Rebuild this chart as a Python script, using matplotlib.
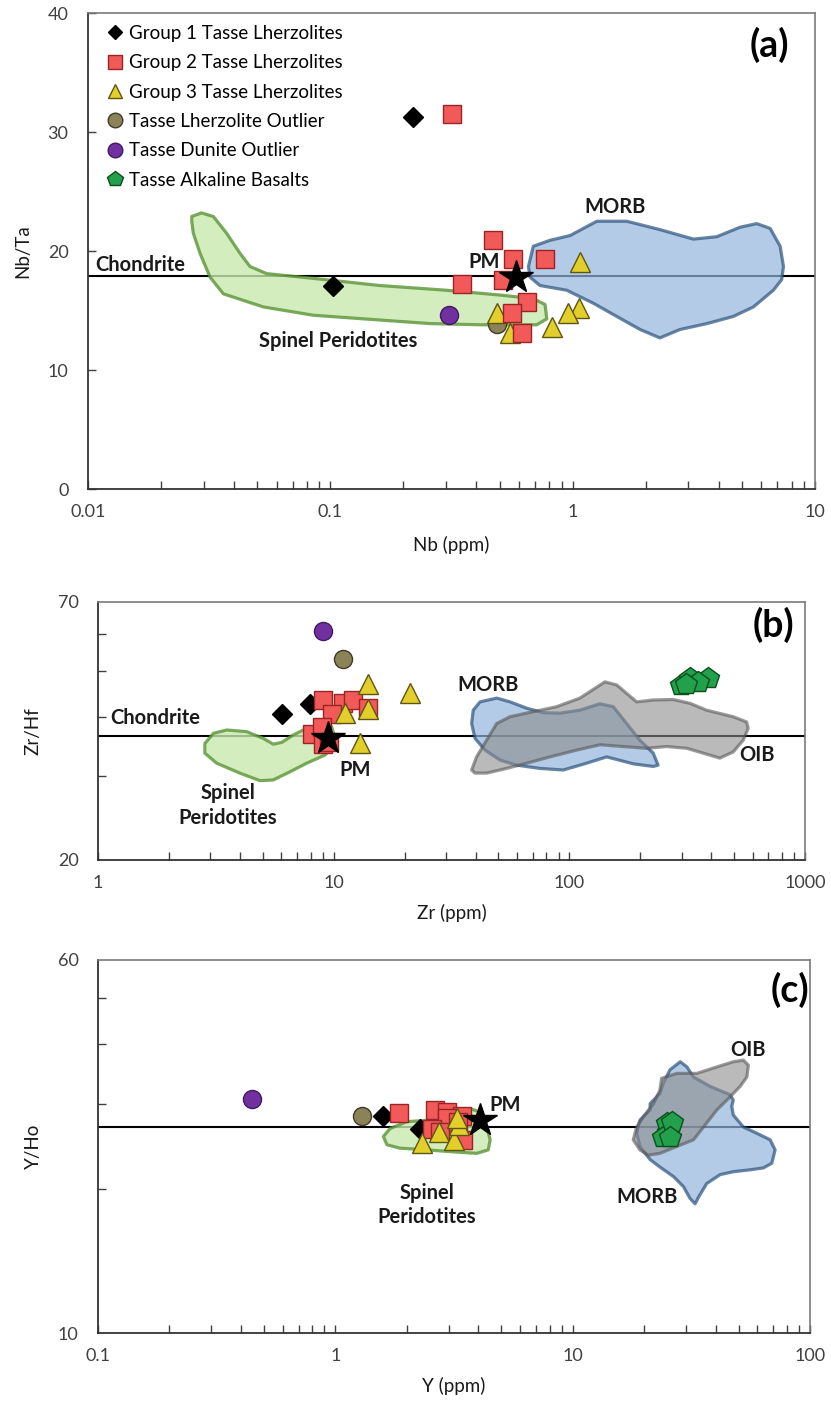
import matplotlib
matplotlib.use("Agg")
import matplotlib.pyplot as plt
from matplotlib.lines import Line2D
from matplotlib.patches import Polygon
from matplotlib.ticker import LogLocator, NullFormatter, FixedLocator, FixedFormatter, FuncFormatter
import numpy as np

plt.rcParams['font.family'] = ['Lato', 'DejaVu Sans']

# ---------------- Panel (a): Nb/Ta vs Nb ----------------
a_g1_x = [0.219, 0.103]
a_g1_y = [31.3, 17.1]
a_g2_x = [0.318, 0.468, 0.569, 0.767, 0.35, 0.518, 0.646, 0.561, 0.616]
a_g2_y = [31.5, 20.9, 19.3, 19.3, 17.2, 17.6, 15.7, 14.8, 13.1]
a_g3_x = [1.07, 1.066, 0.96, 0.825, 0.552, 0.489]
a_g3_y = [19.1, 15.2, 14.8, 13.6, 13.1, 14.8]
a_lz_x, a_lz_y = [0.489], [13.9]
a_du_x, a_du_y = [0.309], [14.6]
a_pm_x, a_pm_y = [0.584], [17.8]
a_chondrite = 17.9

a_sp_x = [0.0268, 0.0294, 0.0329, 0.0373, 0.0424, 0.0466, 0.0546, 0.0851, 0.160, 0.302,
          0.501, 0.688, 0.769, 0.782, 0.711, 0.415, 0.258, 0.160, 0.0851, 0.0529,
          0.0362, 0.0319, 0.029, 0.0272, 0.0268]
a_sp_y = [22.9, 23.2, 22.9, 21.5, 19.8, 18.7, 18.1, 17.7, 17.1, 16.7,
          16.3, 16.0, 15.5, 14.3, 13.8, 13.8, 13.9, 14.2, 14.6, 15.3,
          16.4, 17.8, 19.8, 21.5, 22.5]
a_morb_x = [0.657, 0.688, 0.807, 0.976, 1.258, 1.672, 2.29, 3.15, 3.93, 4.91, 5.75, 6.53,
            7.18, 7.41, 7.29, 6.73, 5.57, 4.60, 3.58, 2.77, 2.29, 1.90, 1.52, 1.22,
            0.946, 0.733, 0.667]
a_morb_y = [18.7, 20.4, 20.9, 21.3, 22.5, 22.5, 21.8, 21.0, 21.2, 22.0, 22.3, 21.9,
            20.4, 18.7, 17.6, 16.7, 15.3, 14.5, 13.9, 13.4, 12.7, 13.4, 14.5, 15.6,
            16.7, 17.1, 17.8]

# ---------------- Panel (b): Zr/Hf vs Zr ----------------
b_g1_x = [6.02, 7.94]
b_g1_y = [40.6, 42.6]
b_g2_x = [9.04, 10.99, 12.1, 14.0, 9.8, 8.07, 8.9, 9.04, 9.6]
b_g2_y = [43.4, 42.9, 43.4, 41.8, 40.6, 36.9, 38.2, 35.1, 35.5]
b_g3_x = [14.0, 21.1, 11.2, 14.0, 12.9]
b_g3_y = [46.9, 44.9, 40.9, 41.7, 35.3]
b_lz_x, b_lz_y = [10.99], [53.0]
b_du_x, b_du_y = [9.04], [60.9]
b_pm_x, b_pm_y = [9.49], [36.1]
b_ab_x = [299, 325, 388, 352, 313]
b_ab_y = [46.7, 48.3, 48.4, 47.5, 47.0]
b_chondrite = 36.5

b_sp_x = [2.84, 3.09, 3.52, 4.27, 5.03, 5.54, 6.02, 6.74, 7.68, 8.75, 9.8, 10.1, 9.96,
          9.19, 7.68, 6.53, 5.54, 4.87, 4.00, 3.19, 2.84]
b_sp_y = [35.2, 37.0, 37.6, 37.3, 36.1, 35.1, 35.4, 36.7, 37.9, 38.5, 38.2, 36.4, 34.7,
          33.3, 32.0, 30.7, 29.5, 29.4, 30.5, 32.0, 33.6]
b_morb_x = [38.5, 39.1, 41.8, 49.2, 56.0, 65.9, 77.5, 91.2, 110.9, 134.8, 153.6, 175, 199,
            227, 238, 227, 187, 144, 118.4, 94.2, 75.0, 59.8, 50.8, 43.9, 39.8]
b_morb_y = [38.8, 41.4, 43.1, 43.9, 43.1, 41.8, 40.9, 40.8, 41.4, 42.7, 42.1, 38.8, 35.8,
            33.6, 31.7, 31.5, 31.9, 33.0, 32.0, 30.96, 31.2, 31.7, 32.5, 34.1, 36.1]
b_oib_x = [38.5, 40.4, 44.6, 49.2, 56.0, 70.3, 88.3, 110.9, 141.6, 158.8, 193, 227, 276,
           325, 382, 496, 565, 574, 547, 496, 435, 370, 315, 259, 213, 169, 134.8,
           107.4, 82.8, 65.9, 54.2, 44.6, 39.8]
b_oib_y = [30.96, 33.0, 35.8, 38.8, 40.1, 41.1, 42.1, 43.9, 47.5, 46.8, 43.1, 43.5, 43.6,
           42.8, 41.4, 40.1, 39.1, 37.9, 35.8, 33.8, 32.8, 33.6, 34.4, 34.7, 34.4, 34.7,
           35.0, 34.1, 33.0, 32.0, 31.2, 30.5, 30.5]

# ---------------- Panel (c): Y/Ho vs Y ----------------
c_g1_x = [1.59, 2.28]
c_g1_y = [28.3, 26.7]
c_g2_x = [1.856, 2.63, 2.95, 3.41, 2.95, 2.55, 2.76, 3.46, 3.3]
c_g2_y = [28.8, 29.2, 28.9, 28.3, 28.1, 26.7, 26.3, 25.3, 27.5]
c_g3_x = [2.31, 2.74, 3.16, 3.33, 3.25]
c_g3_y = [24.9, 26.3, 25.3, 27.2, 28.1]
c_lz_x, c_lz_y = [1.29], [28.3]
c_du_x, c_du_y = [0.445], [30.7]
c_pm_x, c_pm_y = [4.07], [27.8]
c_ab_x = [25.3, 24.9, 24.1, 26.2, 25.7]
c_ab_y = [26.3, 27.4, 25.7, 27.6, 25.7]
c_chondrite = 26.9

c_sp_x = [1.594, 1.70, 2.0, 2.51, 3.04, 3.35, 3.70, 4.07, 4.35, 4.49, 4.41, 3.94, 3.04,
          2.43, 1.87, 1.65]
c_sp_y = [25.7, 26.7, 27.6, 27.8, 28.3, 29.2, 29.4, 28.9, 26.9, 25.3, 24.1, 23.7, 23.9,
          24.1, 24.3, 24.7]
c_morb_x = [28.4, 30.3, 32.3, 37.9, 46.1, 47.5, 46.8, 47.5, 52.4, 59.7, 67.9, 71.3, 69.0,
            63.6, 55.9, 47.5, 41.8, 36.7, 33.9, 32.8, 31.2, 29.3, 26.6, 23.3, 21.2, 19.2,
            18.6, 19.2, 21.2, 21.2, 23.3, 24.1, 25.7]
c_morb_y = [36.8, 35.9, 34.2, 32.7, 31.4, 30.6, 29.7, 28.5, 26.9, 26.1, 25.3, 24.1, 22.6,
            22.1, 21.9, 21.7, 21.4, 20.5, 19.2, 18.6, 19.1, 20.2, 21.2, 22.2, 23.0, 24.5,
            26.1, 27.8, 29.2, 30.1, 31.6, 33.2, 35.4]
c_oib_x = [23.7, 27.5, 33.3, 40.5, 47.5, 52.4, 55.0, 54.2, 50.8, 46.1, 40.5, 35.6, 32.3,
           27.5, 23.3, 20.8, 19.2, 18.0, 18.6, 19.9, 21.9, 23.3]
c_oib_y = [34.0, 34.8, 34.8, 35.9, 36.8, 37.1, 36.2, 34.2, 32.7, 31.1, 29.2, 26.9, 25.3,
           24.5, 23.7, 23.5, 24.1, 25.3, 26.9, 28.3, 30.1, 32.1]

# ---------------- styles ----------------
SQ = dict(marker='s', color='#F25A5A', mec='#9A2424', mew=1.0, ls='none')
TR = dict(marker='^', color='#E3CF2C', mec='#5E5512', mew=1.0, ls='none')
DI = dict(marker='D', color='black', mec='black', ls='none')
LZ = dict(marker='o', color='#8C8257', mec='#3F3B28', mew=1.0, ls='none')
DU = dict(marker='o', color='#7030A0', mec='#3F1A60', mew=1.0, ls='none')
AB = dict(marker='p', color='#22A04B', mec='#0B4F1D', mew=1.0, ls='none')
PM = dict(marker='*', color='black', mec='black', ls='none')

SP_FC, SP_EC = '#C8E9AE', '#5A9436'
MO_FC, MO_EC = '#93B5DD', '#2B527C'
OI_FC, OI_EC = '#8C8C8C', '#575757'

TICKC = '#404040'
LBL = dict(fontsize=14.5, fontweight='bold', color='#1a1a1a')
AXL = dict(fontsize=13.5, color='#1a1a1a')

fig = plt.figure(figsize=(8.31, 14.02), dpi=100)
axA = fig.add_axes([88/831, 1-489/1402, 727/831, 476/1402])
axB = fig.add_axes([98/831, 1-860/1402, 707/831, 258/1402])
axC = fig.add_axes([98/831, 1-1333/1402, 712/831, 373/1402])


def poly(ax, xs, ys, fc, ec, alpha):
    p = Polygon(np.column_stack([xs, ys]), closed=True, facecolor=fc, edgecolor=ec,
                lw=2.3, alpha=alpha, zorder=2, joinstyle='round')
    ax.add_patch(p)


def style(ax):
    ax.set_xscale('log')
    ax.xaxis.set_major_locator(LogLocator(base=10, numticks=10))
    ax.xaxis.set_minor_locator(LogLocator(base=10, subs=np.arange(2, 10), numticks=10))
    ax.xaxis.set_minor_formatter(NullFormatter())
    ax.xaxis.set_major_formatter(FuncFormatter(lambda v, p: '%g' % v))
    ax.tick_params(axis='both', which='both', direction='in', colors='#404040',
                   labelcolor=TICKC, labelsize=13, top=False, right=False)
    ax.tick_params(axis='both', which='both', length=6, width=1)
    ax.tick_params(axis='x', which='major', pad=11)
    ax.tick_params(axis='y', which='major', pad=14)
    for s in ['top', 'right']:
        ax.spines[s].set_color('#7a7a7a')
        ax.spines[s].set_linewidth(1.2)
    for s in ['left', 'bottom']:
        ax.spines[s].set_color('#333333')
        ax.spines[s].set_linewidth(1.3)


# ---- Panel A ----
ax = axA
style(ax)
ax.set_xlim(0.01, 10)
ax.set_ylim(0, 40)
ax.set_yticks([0, 10, 20, 30, 40])
ax.axhline(a_chondrite, color='black', lw=1.5, zorder=1)
poly(ax, a_sp_x, a_sp_y, SP_FC, SP_EC, 0.8)
poly(ax, a_morb_x, a_morb_y, MO_FC, MO_EC, 0.7)
ax.plot(a_g1_x, a_g1_y, ms=10, zorder=4, **DI)
ax.plot(a_du_x, a_du_y, ms=13, zorder=4, **DU)
ax.plot(a_lz_x, a_lz_y, ms=13, zorder=4, **LZ)
ax.plot(a_g3_x, a_g3_y, ms=14, zorder=4, **TR)
ax.plot(a_g2_x, a_g2_y, ms=13, zorder=5, **SQ)
ax.plot(a_pm_x, a_pm_y, ms=25, zorder=6, **PM)
ax.text(0.0107, 18.8, 'Chondrite', ha='left', va='center', **LBL)
ax.text(0.1076, 12.4, 'Spinel Peridotites', ha='center', va='center', **LBL)
ax.text(0.431, 19.1, 'PM', ha='center', va='center', **LBL)
ax.text(1.50, 23.7, 'MORB', ha='center', va='center', **LBL)
ax.text(6.5, 37.3, '(a)', ha='center', va='center', fontsize=27, fontweight='bold')
ax.set_xlabel('Nb (ppm)', labelpad=11, **AXL)
ax.set_ylabel('Nb/Ta', labelpad=11.5, **AXL)

handles = [
    Line2D([], [], ms=7.5, **DI),
    Line2D([], [], ms=10.5, **SQ),
    Line2D([], [], ms=10.5, **TR),
    Line2D([], [], ms=10.5, **LZ),
    Line2D([], [], ms=10.5, **DU),
    Line2D([], [], ms=11.5, **AB),
]
labels = ['Group 1 Tasse Lherzolites', 'Group 2 Tasse Lherzolites',
          'Group 3 Tasse Lherzolites', 'Tasse Lherzolite Outlier',
          'Tasse Dunite Outlier', 'Tasse Alkaline Basalts']
ax.legend(handles, labels, loc='upper left', bbox_to_anchor=(0.02, 0.983), frameon=False,
          fontsize=13.5, handlelength=0.9, handletextpad=0.3, labelspacing=0.66,
          borderaxespad=0.0, borderpad=0.2)

# ---- Panel B ----
ax = axB
style(ax)
ax.set_yscale('log')
ax.set_xlim(1, 1000)
ax.set_ylim(20, 70)
ax.yaxis.set_major_locator(FixedLocator([20, 70]))
ax.yaxis.set_major_formatter(FixedFormatter(['20', '70']))
ax.yaxis.set_minor_locator(FixedLocator([30, 40, 50, 60]))
ax.yaxis.set_minor_formatter(NullFormatter())
ax.tick_params(axis='y', which='major', length=0)
ax.axhline(b_chondrite, color='black', lw=1.5, zorder=1)
poly(ax, b_sp_x, b_sp_y, SP_FC, SP_EC, 0.8)
poly(ax, b_morb_x, b_morb_y, MO_FC, MO_EC, 0.7)
poly(ax, b_oib_x, b_oib_y, OI_FC, OI_EC, 0.6)
ax.plot(b_g1_x, b_g1_y, ms=10, zorder=4, **DI)
ax.plot(b_du_x, b_du_y, ms=13, zorder=4, **DU)
ax.plot(b_lz_x, b_lz_y, ms=13, zorder=4, **LZ)
ax.plot(b_g2_x, b_g2_y, ms=13, zorder=4, **SQ)
ax.plot(b_g3_x, b_g3_y, ms=14, zorder=5, **TR)
ax.plot(b_ab_x, b_ab_y, ms=16, zorder=4, **AB)
ax.plot(b_pm_x, b_pm_y, ms=25, zorder=6, **PM)
ax.text(1.125, 39.9, 'Chondrite', ha='left', va='center', **LBL)
ax.text(3.56, 26.1, 'Spinel\nPeridotites', ha='center', va='center', linespacing=1.3, **LBL)
ax.text(12.3, 31.0, 'PM', ha='center', va='center', **LBL)
ax.text(45.3, 46.8, 'MORB', ha='center', va='center', **LBL)
ax.text(623, 33.3, 'OIB', ha='center', va='center', **LBL)
ax.text(733, 62.6, '(b)', ha='center', va='center', fontsize=27, fontweight='bold')
ax.set_xlabel('Zr (ppm)', labelpad=9, **AXL)
ax.set_ylabel('Zr/Hf', labelpad=11.5, **AXL)

# ---- Panel C ----
ax = axC
style(ax)
ax.set_yscale('log')
ax.set_xlim(0.1, 100)
ax.set_ylim(10, 60)
ax.yaxis.set_major_locator(FixedLocator([10, 60]))
ax.yaxis.set_major_formatter(FixedFormatter(['10', '60']))
ax.yaxis.set_minor_locator(FixedLocator([20, 30, 40, 50]))
ax.yaxis.set_minor_formatter(NullFormatter())
ax.tick_params(axis='y', which='major', length=0)
ax.axhline(c_chondrite, color='black', lw=1.5, zorder=1)
poly(ax, c_sp_x, c_sp_y, SP_FC, SP_EC, 0.8)
poly(ax, c_morb_x, c_morb_y, MO_FC, MO_EC, 0.7)
poly(ax, c_oib_x, c_oib_y, OI_FC, OI_EC, 0.6)
ax.plot(c_du_x, c_du_y, ms=13, zorder=4, **DU)
ax.plot(c_lz_x, c_lz_y, ms=13, zorder=4, **LZ)
ax.plot(c_g1_x, c_g1_y, ms=10, zorder=4, **DI)
ax.plot(c_g2_x, c_g2_y, ms=13, zorder=4, **SQ)
ax.plot(c_g3_x, c_g3_y, ms=14, zorder=5, **TR)
ax.plot(c_ab_x, c_ab_y, ms=16, zorder=4, **AB)
ax.plot(c_pm_x, c_pm_y, ms=25, zorder=6, **PM)
ax.text(5.19, 29.9, 'PM', ha='center', va='center', **LBL)
ax.text(2.43, 18.5, 'Spinel\nPeridotites', ha='center', va='center', linespacing=1.3, **LBL)
ax.text(20.5, 19.2, 'MORB', ha='center', va='center', **LBL)
ax.text(55.0, 38.9, 'OIB', ha='center', va='center', **LBL)
ax.text(82.4, 52.0, '(c)', ha='center', va='center', fontsize=27, fontweight='bold')
ax.set_xlabel('Y (ppm)', labelpad=9, **AXL)
ax.set_ylabel('Y/Ho', labelpad=11.5, **AXL)

fig.savefig('out.png', dpi=100)
